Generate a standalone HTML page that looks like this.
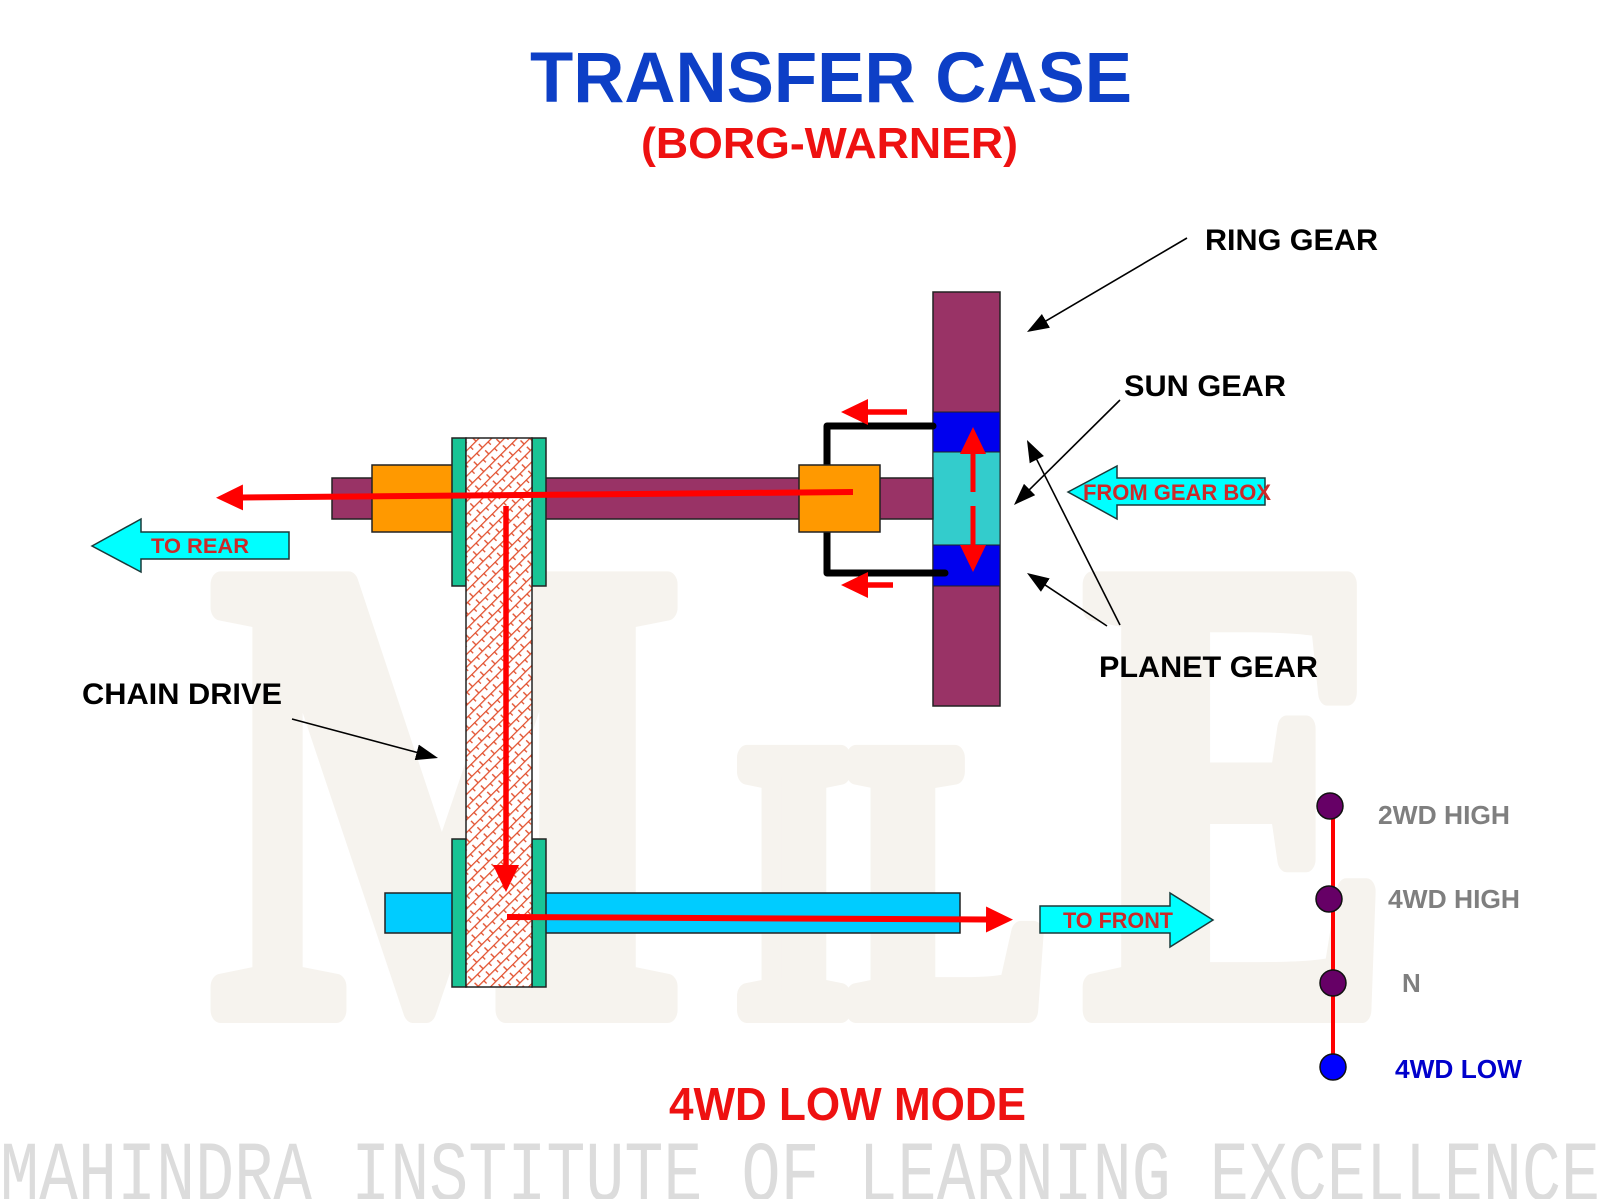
<!DOCTYPE html>
<html>
<head>
<meta charset="utf-8">
<style>
  html,body{margin:0;padding:0;background:#fff;}
  body{width:1600px;height:1199px;overflow:hidden;}
  svg{display:block;}
  .b{font-family:"Liberation Sans",Arial,sans-serif;font-weight:bold;}
</style>
</head>
<body>
<svg xmlns="http://www.w3.org/2000/svg" width="1600" height="1199" viewBox="0 0 1600 1199">
  <defs>
    <pattern id="chain" patternUnits="userSpaceOnUse" width="16" height="9" patternTransform="rotate(-45)">
      <rect width="16" height="9" fill="#fff"/>
      <path d="M0 0.6H16M0.6 0V4.5M8.6 4.5V9" stroke="#e2502e" stroke-width="1.4" fill="none"/>
    </pattern>
    <marker id="rh" markerUnits="userSpaceOnUse" markerWidth="27" markerHeight="26" viewBox="0 0 27 26" refX="1" refY="13" orient="auto">
      <path d="M0 0L27 13L0 26z" fill="#f00"/>
    </marker>
    <marker id="bh" markerUnits="userSpaceOnUse" markerWidth="22" markerHeight="16" viewBox="0 0 22 16" refX="1" refY="8" orient="auto">
      <path d="M0 0L22 8L0 16z" fill="#000"/>
    </marker>
  </defs>

  <rect width="1600" height="1199" fill="#fff"/>

  <!-- faint MILE watermark -->
  <g fill="#f6f3ee" stroke="#f6f3ee" stroke-width="26" stroke-linejoin="round" font-family="'Liberation Serif','Times New Roman',serif" font-weight="bold">
    <text x="212" y="1010" font-size="650" textLength="470" lengthAdjust="spacingAndGlyphs">M</text>
    <text x="737" y="1010" font-size="385" textLength="309" lengthAdjust="spacingAndGlyphs">IL</text>
    <text x="1084" y="1010" font-size="650" textLength="306" lengthAdjust="spacingAndGlyphs">E</text>
  </g>

  <!-- bottom watermark text -->
  <text x="0" y="1200" font-family="'Liberation Mono','DejaVu Sans Mono',monospace" font-size="85" fill="#dcdcdc" textLength="1600" lengthAdjust="spacingAndGlyphs">MAHINDRA INSTITUTE OF LEARNING EXCELLENCE</text>

  <!-- Titles -->
  <text class="b" x="530" y="102" font-size="71" fill="#0d3fc6" textLength="602" lengthAdjust="spacingAndGlyphs">TRANSFER CASE</text>
  <text class="b" x="641" y="158" font-size="44" fill="#ee1111" textLength="377" lengthAdjust="spacingAndGlyphs">(BORG-WARNER)</text>

  <!-- Ring gear -->
  <rect x="933" y="292" width="67" height="414" fill="#993366" stroke="#222" stroke-width="1.5"/>
  <rect x="933" y="412" width="67" height="40" fill="#0000ee" stroke="#222" stroke-width="1"/>
  <rect x="933" y="452" width="67" height="93" fill="#33cccc" stroke="#222" stroke-width="1"/>
  <rect x="933" y="545" width="67" height="41" fill="#0000ee" stroke="#222" stroke-width="1"/>

  <!-- upper shaft -->
  <rect x="332" y="478" width="601" height="41" fill="#993366" stroke="#222" stroke-width="1.5"/>

  <!-- carrier bracket -->
  <path d="M933 426H827V573H945" fill="none" stroke="#000" stroke-width="7" stroke-linejoin="round" stroke-linecap="round"/>

  <!-- orange hubs -->
  <rect x="372" y="465" width="81" height="67" fill="#ff9900" stroke="#222" stroke-width="1.5"/>
  <rect x="799" y="465" width="81" height="67" fill="#ff9900" stroke="#222" stroke-width="1.5"/>

  <!-- lower shaft -->
  <rect x="385" y="893" width="575" height="40" fill="#00ccff" stroke="#222" stroke-width="1.5"/>

  <!-- sprocket plates -->
  <g fill="#19c495" stroke="#222" stroke-width="1.5">
    <rect x="452" y="438" width="14" height="148"/>
    <rect x="532" y="438" width="14" height="148"/>
    <rect x="452" y="839" width="14" height="148"/>
    <rect x="532" y="839" width="14" height="148"/>
  </g>

  <!-- chain -->
  <rect x="466" y="438" width="66" height="549" fill="url(#chain)" stroke="#222" stroke-width="1.5"/>

  <!-- red power-flow arrows -->
  <g stroke="#f00" fill="none">
    <line x1="853" y1="492" x2="242" y2="497.5" stroke-width="6" marker-end="url(#rh)"/>
    <line x1="506" y1="506" x2="506" y2="866" stroke-width="5.5" marker-end="url(#rh)"/>
    <line x1="507" y1="917" x2="987" y2="919.5" stroke-width="6" marker-end="url(#rh)"/>
    <line x1="907" y1="412" x2="867" y2="412" stroke-width="5.5" marker-end="url(#rh)"/>
    <line x1="893" y1="585" x2="867" y2="585" stroke-width="5.5" marker-end="url(#rh)"/>
    <line x1="973" y1="492" x2="973" y2="453" stroke-width="5" marker-end="url(#rh)"/>
    <line x1="973" y1="506" x2="973" y2="546" stroke-width="5" marker-end="url(#rh)"/>
  </g>

  <!-- cyan arrows -->
  <g fill="#00ffff" stroke="#1a3a3a" stroke-width="1.5" stroke-linejoin="miter">
    <polygon points="92,546 141,519 141,532 289,532 289,559 141,559 141,572"/>
    <polygon points="1068,492 1117,466 1117,478 1265,478 1265,505 1117,505 1117,519"/>
    <polygon points="1040,906 1170,906 1170,893 1213,920 1170,947 1170,933 1040,933"/>
  </g>
  <g class="b" fill="#cc2929">
    <text x="151" y="553" font-size="21" textLength="98" lengthAdjust="spacingAndGlyphs">TO REAR</text>
    <text x="1083" y="500" font-size="22" textLength="188" lengthAdjust="spacingAndGlyphs">FROM GEAR BOX</text>
    <text x="1063" y="928" font-size="22" textLength="110" lengthAdjust="spacingAndGlyphs">TO FRONT</text>
  </g>

  <!-- labels -->
  <g class="b" fill="#000" font-size="30">
    <text x="1205" y="250" textLength="173" lengthAdjust="spacingAndGlyphs">RING GEAR</text>
    <text x="1124" y="396" textLength="162" lengthAdjust="spacingAndGlyphs">SUN GEAR</text>
    <text x="1099" y="677" textLength="219" lengthAdjust="spacingAndGlyphs">PLANET GEAR</text>
    <text x="82" y="704" textLength="200" lengthAdjust="spacingAndGlyphs">CHAIN DRIVE</text>
  </g>

  <!-- annotation arrows -->
  <g stroke="#000" stroke-width="1.6" fill="none">
    <line x1="1187" y1="238" x2="1045.1" y2="321.4" marker-end="url(#bh)"/>
    <line x1="1120" y1="400" x2="1028.9" y2="490.2" marker-end="url(#bh)"/>
    <line x1="1120" y1="625" x2="1036.4" y2="458.8" marker-end="url(#bh)"/>
    <line x1="1107" y1="626" x2="1044.5" y2="584.6" marker-end="url(#bh)"/>
    <line x1="292" y1="719" x2="417.7" y2="752.6" marker-end="url(#bh)"/>
  </g>

  <!-- selector legend -->
  <line x1="1333" y1="806" x2="1333" y2="1067" stroke="#f00" stroke-width="4"/>
  <g stroke="#111" stroke-width="1.5">
    <circle cx="1330" cy="806" r="13" fill="#660066"/>
    <circle cx="1329" cy="899" r="13" fill="#660066"/>
    <circle cx="1333" cy="983" r="13" fill="#660066"/>
    <circle cx="1333" cy="1067" r="13" fill="#0000ff"/>
  </g>
  <g class="b" font-size="26">
    <text x="1378" y="824" fill="#7f7f7f" textLength="132" lengthAdjust="spacingAndGlyphs">2WD HIGH</text>
    <text x="1388" y="908" fill="#7f7f7f" textLength="132" lengthAdjust="spacingAndGlyphs">4WD HIGH</text>
    <text x="1402" y="992" fill="#7f7f7f">N</text>
    <text x="1395" y="1078" fill="#0000cc" textLength="127" lengthAdjust="spacingAndGlyphs">4WD LOW</text>
  </g>

  <!-- mode -->
  <text class="b" x="669" y="1120" font-size="46" fill="#ee1111" textLength="357" lengthAdjust="spacingAndGlyphs">4WD LOW MODE</text>
</svg>
</body>
</html>
